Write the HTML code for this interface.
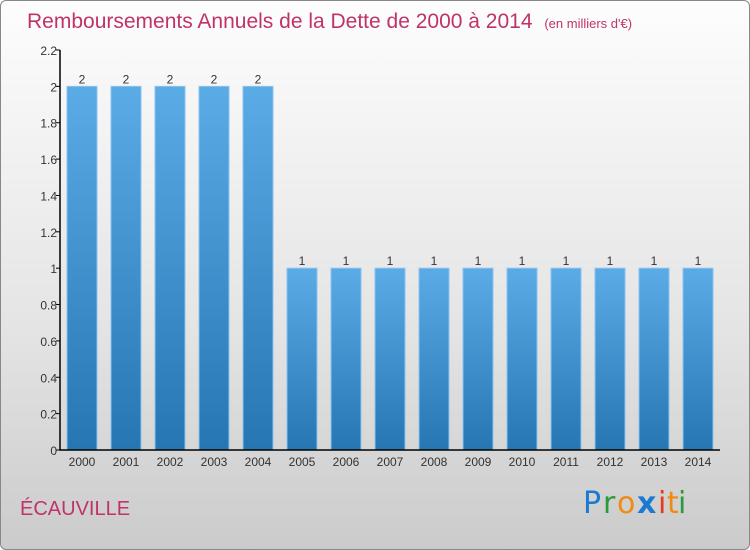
<!DOCTYPE html>
<html><head><meta charset="utf-8"><style>
body{margin:0;width:750px;height:550px;overflow:hidden;font-family:"Liberation Sans",sans-serif}
#bg{position:absolute;left:0;top:0;width:748px;height:548px;border:1px solid #888;border-radius:6px;background:linear-gradient(#fdfdfd,#e4e4e4 60%,#cbcbcb)}
</style></head><body>
<div id="bg"></div>
<svg width="750" height="550" style="position:absolute;left:0;top:0">
<defs><linearGradient id="g" x1="0" y1="0" x2="0" y2="1"><stop offset="0" stop-color="#5aabe6"/><stop offset="1" stop-color="#2676b3"/></linearGradient></defs>
<text x="27" y="28" font-size="21" fill="#c0336a">Remboursements Annuels de la Dette de 2000 à 2014 <tspan font-size="13" dx="6">(en milliers d'€)</tspan></text>
<g id="plot"></g>
<text x="20" y="515" font-size="20" fill="#c0336a">ÉCAUVILLE</text>
<g font-size="30" font-family="'DejaVu Sans',sans-serif">
<text x="583" y="513" fill="#1b7ad0">P</text><text x="603" y="513" fill="#2a9a3a">r</text><text x="617" y="513" fill="#f08a10">o</text><text x="637" y="513" fill="#1b7ad0" font-weight="bold">x</text><text x="658" y="513" fill="#e83a1a">i</text><text x="667" y="513" fill="#f08a10">t</text><text x="678" y="513" fill="#2a9a3a">i</text></g>
</svg>
<script>
const years=["2000","2001","2002","2003","2004","2005","2006","2007","2008","2009","2010","2011","2012","2013","2014"];
const values=[2,2,2,2,2,1,1,1,1,1,1,1,1,1,1];
const ticks=[0,0.2,0.4,0.6,0.8,1,1.2,1.4,1.6,1.8,2,2.2];
const tickLabels=["0","0.2","0.4","0.6","0.8","1","1.2","1.4","1.6","1.8","2","2.2"];
const NS="http://www.w3.org/2000/svg",p=document.getElementById('plot');
const y=v=>450-v*400/2.2, x=i=>67+i*44;
function mk(t,a,txt){const e=document.createElementNS(NS,t);for(const k in a)e.setAttribute(k,a[k]);if(txt!=null)e.textContent=txt;p.appendChild(e);return e;}
values.forEach((v,i)=>{
const b=mk('rect',{x:x(i),y:y(v),width:30,height:450-y(v),fill:'url(#g)',stroke:'#8cc4ee','stroke-width':1});


const l=mk('text',{x:x(i)+15,y:y(v)-3,'font-size':12,fill:'#333','text-anchor':'middle'},String(v));


const t=mk('text',{x:x(i)+15,y:466,'font-size':12,fill:'#333','text-anchor':'middle'},years[i]);


});
ticks.forEach((v,i)=>{
mk('line',{x1:56,x2:60,y1:y(v),y2:y(v),stroke:'#000'});
const t=mk('text',{x:57,y:y(v)+5,'font-size':12,fill:'#333','text-anchor':'end'},tickLabels[i]);


});
const ax=mk('path',{d:'M60 50V450H720',stroke:'#000',fill:'none','stroke-width':1.5});


</script>
</body></html>
